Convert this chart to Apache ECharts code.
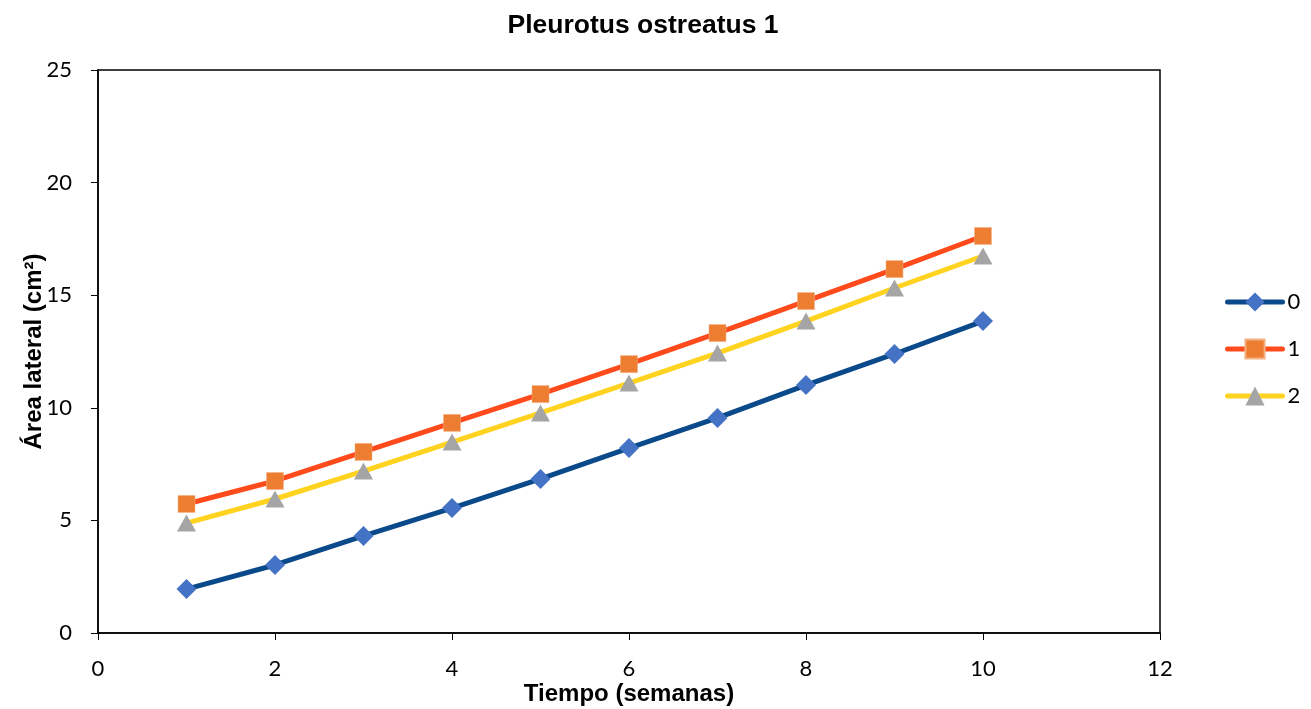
<!DOCTYPE html>
<html>
<head>
<meta charset="utf-8">
<script src="https://cdn.jsdelivr.net/npm/echarts@6/dist/echarts.min.js"></script>
<style>html,body{margin:0;padding:0;background:#fff;}#c{width:1311px;height:709px;}</style>
</head>
<body>
<div id="c"></div>
<script>
const weeks = [1, 2, 3, 4, 5, 6, 7, 8, 9, 10];
const series0 = [1.95, 3.02, 4.31, 5.55, 6.84, 8.21, 9.55, 11.01, 12.39, 13.85];
const series1 = [5.73, 6.75, 8.04, 9.33, 10.61, 11.94, 13.32, 14.74, 16.16, 17.63];
const series2 = [4.88, 5.95, 7.19, 8.48, 9.77, 11.10, 12.43, 13.85, 15.32, 16.74];
const seriesNames = ['0', '1', '2'];

const pairs = arr => weeks.map((w, i) => [w, arr[i]]);
const tickFont = 'Lato, "Open Sans", sans-serif';
const boldFont = '"Liberation Sans", Arial, sans-serif';
const chart = echarts.init(document.getElementById('c'));
chart.setOption({
  animation: false,
  backgroundColor: '#fff',
  title: {
    text: 'Pleurotus ostreatus 1',
    left: 638, top: 7, textAlign: 'center',
    textStyle: { fontFamily: boldFont, fontWeight: 'bold', fontSize: 26.5, color: '#000' }
  },
  grid: { left: 98, right: 151, top: 70, bottom: 76, containLabel: false, outerBoundsMode: 'none', show: true, borderColor: '#000', borderWidth: 1.5, backgroundColor: 'transparent' },
  legend: {
    orient: 'vertical', left: 1220, top: 286, itemWidth: 55, itemHeight: 24, itemGap: 25,
    lineStyle: { width: 5, cap: 'round' },
    textStyle: { fontFamily: tickFont, fontSize: 22, color: '#000' },
    data: seriesNames
  },
  xAxis: {
    type: 'value', min: 0, max: 12, interval: 2,
    name: 'Tiempo (semanas)', nameLocation: 'middle', nameGap: 49, nameMoveOverlap: false,
    nameTextStyle: { fontFamily: boldFont, fontWeight: 'bold', fontSize: 24, color: '#000' },
    axisLine: { lineStyle: { color: '#000', width: 1.5 } },
    axisTick: { show: true, length: 7, lineStyle: { color: '#000' } },
    axisLabel: { fontFamily: tickFont, fontSize: 22, color: '#000', margin: 25 },
    splitLine: { show: false }
  },
  yAxis: {
    type: 'value', min: 0, max: 25, interval: 5,
    name: 'Área lateral (cm²)', nameLocation: 'middle', nameGap: 52, nameRotate: 90, nameMoveOverlap: false,
    nameTextStyle: { fontFamily: boldFont, fontWeight: 'bold', fontSize: 24, color: '#000' },
    axisLine: { show: true, lineStyle: { color: '#000', width: 1.5 } },
    axisTick: { show: true, length: 7, lineStyle: { color: '#000' } },
    axisLabel: { fontFamily: tickFont, fontSize: 22, color: '#000', margin: 26 },
    splitLine: { show: false }
  },
  series: [
    {
      name: seriesNames[0], type: 'line', data: pairs(series0),
      symbol: 'diamond', symbolSize: [20, 20],
      lineStyle: { color: '#0B4A8A', width: 5 },
      itemStyle: { color: '#4472C4' }
    },
    {
      name: seriesNames[1], type: 'line', data: pairs(series1),
      symbol: 'rect', symbolSize: 17,
      lineStyle: { color: '#FF4A1C', width: 5 },
      itemStyle: { color: '#ED7D31', borderColor: '#F4B183', borderWidth: 0.5 }
    },
    {
      name: seriesNames[2], type: 'line', data: pairs(series2),
      symbol: 'triangle', symbolSize: [19, 17],
      lineStyle: { color: '#FFD320', width: 5 },
      itemStyle: { color: '#A5A5A5' }
    }
  ]
});
</script>
</body>
</html>
